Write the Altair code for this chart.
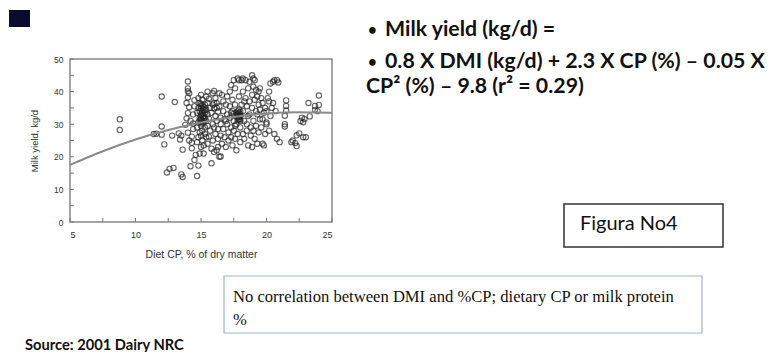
import altair as alt
import pandas as pd

# Scatter data: (Diet CP %, Milk yield kg/d)
cp = [
    8.8, 8.8, 11.4, 11.6, 12.0, 12.0, 12.0, 12.2, 12.4, 12.6, 12.9, 13.0, 12.8, 13.3, 13.4, 13.5, 13.6, 13.6, 13.8, 13.5,
    13.9, 14.0, 14.0, 14.0, 14.0, 14.1, 14.1, 14.0, 13.9, 14.2, 14.0, 14.1, 14.3, 14.3, 14.2, 14.4, 14.4, 14.3, 14.5, 14.4, 14.5, 14.5,
    14.6, 14.7, 14.8, 14.9, 15.0, 14.7, 14.8, 14.9, 14.7, 14.8, 14.9, 14.7, 14.8, 14.9, 14.8, 15.0, 15.1, 15.0, 15.1, 15.0, 15.1, 15.0,
    15.1, 15.0, 15.1, 15.2, 15.2, 15.3, 15.3, 15.3, 15.2, 15.3, 15.3, 15.4, 15.4, 15.4, 15.4, 15.5, 15.5, 15.5, 15.5, 15.5, 15.0, 15.1,
    15.2, 14.9, 15.0, 15.2,
    15.0, 15.1, 15.0, 15.2, 15.1, 14.9, 15.0, 15.2, 15.1, 15.3,
    15.6, 15.7, 15.6, 15.7, 15.6, 15.8, 15.8, 15.9, 15.9, 15.8, 15.9, 15.9, 16.0, 16.0, 16.1, 16.0, 16.1, 16.0, 16.1, 16.2, 16.2, 16.3,
    16.2, 16.3, 16.3, 16.3, 16.4, 16.5, 16.4, 16.4, 16.5, 16.5, 16.5, 16.6, 16.2, 16.0,
    16.6, 16.7, 16.7, 16.8, 16.7, 16.8, 16.9, 16.9, 17.0, 17.0, 17.0, 17.1, 17.1, 17.2, 17.2, 17.3, 17.3, 17.3, 17.4, 17.4, 17.4, 17.5,
    17.5, 17.5, 17.6, 17.6, 17.6, 17.7, 17.7, 17.7, 17.8, 17.8, 17.8, 17.9, 17.9, 17.9, 18.0, 18.0, 18.0, 18.0, 17.9, 17.6, 17.8, 18.0,
    17.2, 16.9,
    17.8, 17.9, 18.0, 17.8, 17.9, 17.7, 18.0, 17.8, 17.5, 17.3,
    18.1, 18.2, 18.2, 18.1, 18.2, 18.3, 18.2, 18.3, 18.4, 18.4, 18.5, 18.5, 18.5, 18.6, 18.6, 18.7, 18.7, 18.7, 18.8, 18.8, 18.9, 18.9,
    18.9, 18.9, 19.0, 19.0, 19.0, 19.0, 19.1, 19.1, 19.1, 19.2, 19.2, 19.2, 19.3, 19.3, 19.3, 19.4, 19.4, 19.4, 19.5, 19.5, 19.5, 18.6,
    18.3,
    19.6, 19.6, 19.7, 19.7, 19.8, 19.8, 19.9, 19.9, 20.0, 20.0, 20.0, 20.1, 20.2, 20.2, 20.3, 20.3, 20.4, 20.5, 20.6, 20.7, 20.8, 20.9,
    20.8, 21.0, 20.6, 20.5, 20.2, 19.7,
    21.5, 21.5, 21.5, 21.4, 21.4, 21.4, 22.0, 22.2, 22.3, 22.3, 22.5, 22.8, 22.6, 22.7, 22.8, 23.0, 23.2, 23.3, 23.7, 23.7, 24.0, 24.0,
    23.9, 22.9, 21.9,
]
milk = [
    31.5, 28.2, 27.0, 27.1, 38.5, 29.3, 26.8, 23.8, 15.2, 16.3, 16.6, 36.8, 26.5, 27.2, 25.3, 14.6, 13.8, 22.2, 29.8, 26.5,
    36.5, 38.2, 40.1, 41.0, 43.1, 39.5, 35.2, 33.4, 31.8, 31.0, 27.4, 25.0, 24.3, 22.6, 17.1, 28.5, 30.2, 26.2, 19.0, 33.0, 35.5, 37.4,
    20.6, 14.1, 17.3, 21.0, 23.0, 24.5, 26.0, 27.5, 29.0, 30.5, 32.0, 33.5, 35.0, 36.5, 38.0, 39.0, 37.5, 35.5, 34.0, 32.5, 31.0, 29.5,
    28.0, 26.5, 25.0, 23.5, 21.0, 36.0, 33.5, 32.0, 30.5, 29.0, 27.0, 38.5, 34.5, 31.0, 26.0, 40.0, 36.5, 33.0, 29.5, 24.0, 33.0, 33.5,
    34.5, 34.0, 31.5, 32.5,
    34.8, 35.8, 30.8, 31.8, 32.8, 31.2, 36.2, 35.2, 30.2, 34.2,
    37.8, 35.0, 31.8, 28.0, 26.2, 18.0, 22.5, 39.5, 36.0, 33.5, 30.0, 25.0, 21.5, 40.2, 38.0, 34.8, 32.5, 29.0, 27.0, 22.0, 36.5, 33.8,
    31.0, 28.5, 25.5, 23.0, 20.0, 20.1, 39.5, 35.5, 32.0, 30.0, 26.5, 24.0, 35.0, 36.5,
    39.0, 37.0, 34.0, 31.5, 28.5, 26.0, 23.0, 36.0, 38.5, 33.0, 30.0, 27.5, 25.0, 35.5, 32.0, 42.0, 29.0, 26.0, 37.5, 34.0, 23.5, 43.5,
    31.0, 28.0, 41.0, 36.0, 25.5, 33.5, 30.0, 22.0, 44.0, 32.0, 27.0, 38.5, 34.5, 31.5, 33.0, 32.5, 29.0, 24.5, 43.5, 29.5, 33.0, 31.5,
    40.0, 31.0,
    32.6, 33.4, 33.8, 34.0, 32.2, 32.8, 31.0, 31.2, 33.2, 33.5,
    43.5, 44.0, 40.0, 36.0, 34.0, 31.0, 27.0, 25.5, 43.5, 38.0, 35.5, 30.0, 28.0, 23.5, 41.0, 43.0, 37.0, 33.0, 29.0, 26.5, 45.0, 39.0,
    35.0, 23.0, 44.0, 41.5, 31.0, 28.0, 43.5, 37.5, 25.5, 40.5, 34.0, 29.5, 38.5, 33.0, 24.0, 40.0, 36.0, 27.5, 41.0, 31.5, 34.5, 32.5,
    37.0,
    38.0, 29.0, 36.5, 24.0, 33.5, 23.5, 27.0, 35.0, 34.0, 30.5, 30.0, 38.0, 28.0, 37.0, 42.5, 32.5, 35.0, 43.0, 43.5, 34.0, 43.5, 42.8,
    25.5, 24.5, 27.0, 36.5, 40.0, 31.5,
    37.3, 35.6, 34.2, 32.6, 30.0, 29.3, 25.0, 24.2, 23.3, 26.6, 27.2, 26.0, 31.0, 32.0, 30.6, 26.0, 36.5, 32.4, 34.4, 35.6, 38.8, 35.9,
    34.0, 31.6, 24.5,
]

# Fitted curve
curve_cp = [5, 7.5, 10, 12.5, 15, 17.5, 20, 22.5, 25]
curve_milk = [17.5, 21.7, 25.3, 28.2, 30.5, 32.2, 33.3, 33.7, 33.5]

# Axis ticks
x_ticks = [5, 7.5, 10, 12.5, 15, 17.5, 20, 22.5, 25]
y_ticks = [0, 5, 10, 15, 20, 25, 30, 35, 40, 45, 50]
x_labels = [5, 10, 15, 20, 25]
y_labels = [0, 10, 20, 30, 40, 50]

eq_line1 = "Milk yield (kg/d) ="
eq_line2 = "0.8 X DMI (kg/d) + 2.3 X CP (%) \u2013 0.05 X"
eq_line3 = "CP\u00b2 (%) \u2013 9.8 (r\u00b2 = 0.29)"
fig_label = "Figura No4"
note_line1 = "No correlation between DMI and %CP; dietary CP or milk protein"
note_line2 = "%"
source_text = "Source: 2001 Dairy NRC"

W, H = 262, 163
PAD = {"left": 70, "top": 59, "right": 777 - 70 - W, "bottom": 352 - 59 - H}

xs = alt.Scale(domain=[5, 25], nice=False, zero=False)
ys = alt.Scale(domain=[0, 50], nice=False)

X_AXIS = alt.Axis(values=x_labels, title="Diet CP, % of dry matter", labelPadding=8, titlePadding=10,
                  titleFontSize=10.5, labelFontSize=9, labelOverlap=False)
Y_AXIS = alt.Axis(values=y_labels, title="Milk yield, kg/d", labelPadding=7, titlePadding=14,
                  titleFontSize=9.5, labelFontSize=8.5, labelOverlap=False)

def X():
    return alt.X("cp:Q", scale=xs, axis=X_AXIS)

def Y():
    return alt.Y("milk:Q", scale=ys, axis=Y_AXIS)

pts = pd.DataFrame({"cp": cp, "milk": milk})
cur = pd.DataFrame({"cp": curve_cp, "milk": curve_milk})
one = pd.DataFrame({"a": [0]})

scatter = alt.Chart(pts).mark_point(
    shape="circle", filled=False, stroke="#222222", strokeWidth=1.1, opacity=0.7, size=28
).encode(x=X(), y=Y())

line = alt.Chart(cur).mark_line(color="#8a8a8a", strokeWidth=2, interpolate="monotone").encode(
    x=X(), y=Y()
)

xt = alt.Chart(pd.DataFrame({"cp": x_ticks})).mark_rule(color="#777", strokeWidth=1).encode(
    x=X(), y=alt.value(H), y2=alt.value(H - 4)
)
yt = alt.Chart(pd.DataFrame({"milk": y_ticks})).mark_rule(color="#777", strokeWidth=1).encode(
    y=Y(), x=alt.value(0), x2=alt.value(4)
)

def txt(s, x, y, size, font="Lato", weight="normal", color="#111"):
    return alt.Chart(pd.DataFrame({"t": [s]})).mark_text(
        align="left", baseline="middle", fontSize=size, font=font, fontWeight=weight, color=color
    ).encode(text="t:N", x=alt.value(x), y=alt.value(y))

def box(x1, x2, y1, y2, stroke, sw, fill="white"):
    return alt.Chart(one).mark_rect(fill=fill, stroke=stroke, strokeWidth=sw).encode(
        x=alt.value(x1), x2=alt.value(x2), y=alt.value(y1), y2=alt.value(y2)
    )

square = alt.Chart(one).mark_rect(fill="#0b0b2e").encode(
    x=alt.value(-61), x2=alt.value(-40), y=alt.value(-49), y2=alt.value(-32)
)

layers = [
    scatter, line, xt, yt, square,
    txt("\u2022", 298, -29, 15, weight="bold"),
    txt(eq_line1, 315, -29, 21.3, weight="bold"),
    txt("\u2022", 298, 3, 15, weight="bold"),
    txt(eq_line2, 315, 3, 21.3, weight="bold"),
    txt(eq_line3, 296, 28, 21.3, weight="bold"),
    box(494, 653, 145, 188, "#333333", 1.5),
    txt(fig_label, 510, 165, 20),
    box(154, 632, 217, 274, "#9fb3cf", 1.2),
    txt(note_line1, 163, 238, 16.6, font="Liberation Serif"),
    txt(note_line2, 163, 261, 16.6, font="Liberation Serif"),
    txt(source_text, -45, 287, 14.7, weight="bold"),
]

chart = alt.layer(*layers).properties(
    width=W, height=H, padding=PAD, autosize=alt.AutoSizeParams(type="none"), background="white"
).configure_view(
    stroke="#888888", strokeWidth=1.5
).configure_axis(
    grid=False, domain=False, ticks=False, tickSize=0,
    labelFont="Liberation Sans", labelColor="#333333", titleFont="Liberation Sans",
    titleColor="#333333", titleFontWeight="normal"
)

chart.save("out.html", embed_options={"renderer": "svg", "actions": False})
